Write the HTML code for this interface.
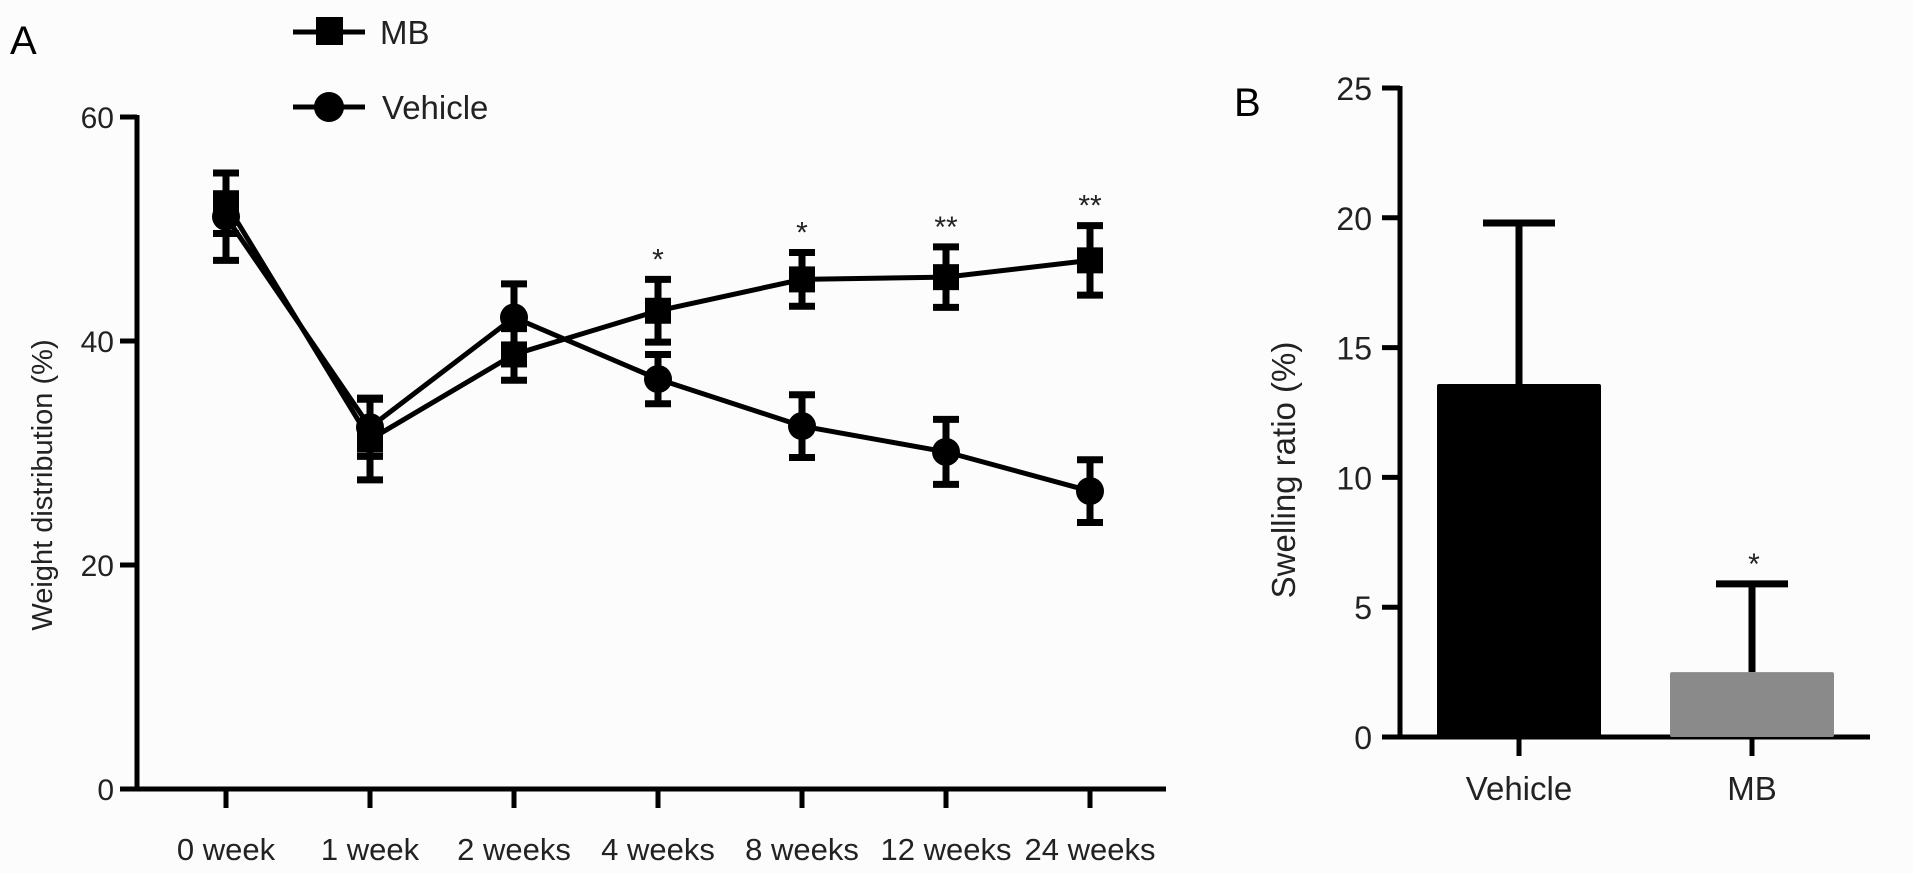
<!DOCTYPE html>
<html><head><meta charset="utf-8"><style>
html,body{margin:0;padding:0;background:#fff;}
svg{display:block;font-family:"Liberation Sans",Arial,sans-serif;}
</style></head><body>
<svg id="fig" width="1913" height="873" viewBox="0 0 1913 873" xmlns="http://www.w3.org/2000/svg">
<rect x="0" y="0" width="1913" height="873" fill="#fcfcfc"/>
<g id="pa"></g>
<g id="pb"></g>
</svg>
<script>
const weekLabels = ["0 week","1 week","2 weeks","4 weeks","8 weeks","12 weeks","24 weeks"];
const mbValues = [52.3, 31.2, 38.8, 42.7, 45.5, 45.7, 47.2];
const mbErrors = [2.7, 3.6, 2.3, 2.8, 2.4, 2.7, 3.1];
const vehValues = [51.1, 32.3, 42.1, 36.6, 32.4, 30.1, 26.6];
const vehErrors = [3.9, 2.6, 3.0, 2.2, 2.8, 2.9, 2.8];
const sigMarks = ["", "", "", "*", "*", "**", "**"];
const aTicks = [0, 20, 40, 60];
const barCats = ["Vehicle", "MB"];
const barValues = [13.6, 2.5];
const barErrors = [6.2, 3.4];
const barSig = ["", "*"];
const bTicks = [0, 5, 10, 15, 20, 25];

const NS = "http://www.w3.org/2000/svg";
function mk(parent, tag, attrs, text){
  const e = document.createElementNS(NS, tag);
  for (const k in attrs) e.setAttribute(k, attrs[k]);
  if (text !== undefined) e.textContent = text;
  parent.appendChild(e);
  return e;
}
const ax0 = 137, ay0 = 789, ay60 = 117;
const yA = v => ay0 - (v / 60) * (ay0 - ay60);
const xA = i => 226 + i * 144;
const pa = document.getElementById('pa');

let t = mk(pa, 'text', {x: 10, y: 54, 'font-size': 40}, 'A');



let ax = mk(pa, 'path', {d: `M${ax0} ${ay60-2} V${ay0} H1166`, stroke: '#000', 'stroke-width': 5, fill: 'none'});


aTicks.forEach(v => {
  const l = mk(pa, 'line', {x1: 120, x2: ax0, y1: yA(v), y2: yA(v), stroke: '#000', 'stroke-width': 5});
  
  
  const tx = mk(pa, 'text', {x: 114, y: yA(v) + 11, 'font-size': 30, 'text-anchor': 'end', fill: '#222'}, String(v));
  
  
});
weekLabels.forEach((lab, i) => {
  const l = mk(pa, 'line', {x1: xA(i), x2: xA(i), y1: ay0, y2: 808, stroke: '#000', 'stroke-width': 5});
  
  
  const tx = mk(pa, 'text', {x: xA(i), y: 860, 'font-size': 31, 'text-anchor': 'middle', fill: '#222'}, lab);
  
  
});
t = mk(pa, 'text', {x: 0, y: 0, 'font-size': 29, 'text-anchor': 'middle', fill: '#222', transform: 'translate(52,485) rotate(-90)'}, 'Weight distribution (%)');



function series(vals, errs, kind, name){
  const g = mk(pa, 'g', {});
  
  
  const d = vals.map((v, i) => (i ? 'L' : 'M') + xA(i) + ' ' + yA(v)).join(' ');
  const p = mk(g, 'path', {d, stroke: '#000', 'stroke-width': 5, fill: 'none'});
  
  
  vals.forEach((v, i) => {
    const x = xA(i), top = yA(v + errs[i]), bot = yA(v - errs[i]);
    const e = mk(g, 'path', {d: `M${x} ${top} V${bot} M${x-13} ${top} H${x+13} M${x-13} ${bot} H${x+13}`, stroke: '#000', 'stroke-width': 7, fill: 'none'});
    
    
    let m;
    if (kind === 'square') m = mk(g, 'rect', {x: x-13, y: yA(v)-13, width: 26, height: 26, fill: '#000'});
    else m = mk(g, 'circle', {cx: x, cy: yA(v), r: 14, fill: '#000'});
    
    
  });
}
series(vehValues, vehErrors, 'circle', 'vehicle-series');
series(mbValues, mbErrors, 'square', 'mb-series');
sigMarks.forEach((s, i) => {
  if (!s) return;
  const tx = mk(pa, 'text', {x: xA(i), y: yA(mbValues[i] + mbErrors[i]) - 10, 'font-size': 30, 'text-anchor': 'middle', fill: '#222'}, s);
  
  
});
const lg = mk(pa, 'g', {});


let le = mk(lg, 'g', {});


mk(le, 'line', {x1: 293, x2: 365, y1: 32, y2: 32, stroke: '#000', 'stroke-width': 5});
mk(le, 'rect', {x: 316, y: 17, width: 27, height: 28, fill: '#000'});
mk(le, 'text', {x: 380, y: 44, 'font-size': 33, fill: '#222'}, 'MB');
le = mk(lg, 'g', {});


mk(le, 'line', {x1: 293, x2: 365, y1: 107, y2: 107, stroke: '#000', 'stroke-width': 5});
mk(le, 'circle', {cx: 329, cy: 107, r: 15, fill: '#000'});
mk(le, 'text', {x: 382, y: 119, 'font-size': 33, fill: '#222'}, 'Vehicle');

const pb = document.getElementById('pb');
const bx0 = 1400, by0 = 737, by25 = 88;
const yB = v => by0 - (v / 25) * (by0 - by25);
const barCenters = [1519, 1752];
const barW = 164;
t = mk(pb, 'text', {x: 1234, y: 116, 'font-size': 40}, 'B');


ax = mk(pb, 'path', {d: `M${bx0} ${by25-2} V${by0} H1870`, stroke: '#000', 'stroke-width': 5, fill: 'none'});


bTicks.forEach(v => {
  const l = mk(pb, 'line', {x1: 1382, x2: bx0, y1: yB(v), y2: yB(v), stroke: '#000', 'stroke-width': 5});
  
  
  const tx = mk(pb, 'text', {x: 1372, y: yB(v) + 12, 'font-size': 32, 'text-anchor': 'end', fill: '#222'}, String(v));
  
  
});
t = mk(pb, 'text', {x: 0, y: 0, 'font-size': 33, 'text-anchor': 'middle', fill: '#222', transform: 'translate(1295,470) rotate(-90)'}, 'Swelling ratio (%)');


barCats.forEach((c, i) => {
  const cx = barCenters[i], v = barValues[i], top = yB(v + barErrors[i]);
  const e = mk(pb, 'path', {d: `M${cx} ${yB(v)} V${top} M${cx-36} ${top} H${cx+36}`, stroke: '#000', 'stroke-width': 7, fill: 'none'});
  
  
  const r = mk(pb, 'rect', {x: cx - barW/2, y: yB(v), width: barW, height: by0 - yB(v), fill: i === 0 ? '#000' : '#8a8a8a', rx: 2});
  
  
  const l = mk(pb, 'line', {x1: cx, x2: cx, y1: by0, y2: 756, stroke: '#000', 'stroke-width': 5});
  
  
  const tx = mk(pb, 'text', {x: cx, y: 800, 'font-size': 33, 'text-anchor': 'middle', fill: '#222'}, c);
  
  
  if (barSig[i]) {
    const s = mk(pb, 'text', {x: cx + 2, y: top - 10, 'font-size': 30, 'text-anchor': 'middle', fill: '#222'}, barSig[i]);
    
    
  }
});
</script>
</body></html>
